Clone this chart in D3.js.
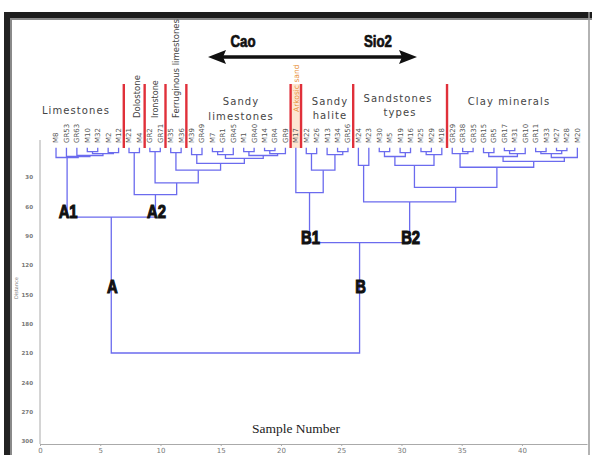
<!DOCTYPE html>
<html><head><meta charset="utf-8">
<script src="https://cdn.jsdelivr.net/npm/d3@7"></script>
<style>body{margin:0;background:#fff}svg{display:block}</style>
</head><body><svg id="c" width="592" height="455"></svg>
<script>
// ---------------- DATA ----------------
const leafLabels = [
  "M8","GR53","GR63","M10","M32","M2","M12",
  "M21","M4",
  "GR2","GR71",
  "M35","M36",
  "M39","GR49","M7","GR1","GR45","M1","GR40","M14","GR4","GR9",
  "M17",
  "M22","M26","M13","M34","GR56",
  "M24","M23","M30","M5","M19","M16","M25","M29","M18",
  "GR29","GR38","GR35","GR15","GR5","GR17","M31","GR10","GR11","M33","M27","M28","M20"
];
// linkage: [name, left, right, distance]  (numbers = leaf index, strings = earlier merge)
const merges = [
  ["a34",3,4,4],["a56",5,6,5],["aZ","a34","a56",6],["aY",2,"aZ",8],["aX",1,"aY",9],["A1",0,"aX",10],
  ["d78",7,8,5],["i910",9,10,4],["f1112",11,12,5],["s1314",13,14,7],["s1516",15,16,4],["S1","s1516",17,7],
  ["s1819",18,19,4],["s2021",20,21,3],["s2022","s2021",22,6],["S2","s1819","s2022",8],["T2","S1","S2",11],
  ["U","s1314","T2",16],["V","f1112","U",23],["W","i910","V",36],["A2","d78","W",48],["A","A1","A2",71],
  ["h2425",24,25,6],["h2728",27,28,4],["P2",26,"h2728",7],["R","h2425","P2",23],["B1",23,"R",46],
  ["Q1",29,30,18],["t3132",31,32,4],["t3334",33,34,5],["O1","t3132","t3334",9],["t3536",35,36,4],["O2","t3536",37,7],["Q3","O1","O2",18],
  ["c3940",39,40,4],["N1",38,"c3940",6],["c4142",41,42,5],["c4344",43,44,3],["c4345","c4344",45,6],["M1","c4142","c4345",9],
  ["c4647",46,47,4],["c4849",48,49,3],["cX","c4647","c4849",6],["M2","cX",50,10],["N2","M1","M2",14],["Q4","N1","N2",20],
  ["Q2","Q3","Q4",40.5],["B2","Q1","Q2",55.5],["B","B1","B2",97],["root","A","B",210]
];
const groupCounts = [7,2,2,2,10,1,5,9,13];
const clusterLabels = ["A","A1","A2","B","B1","B2"];
const xTicks = [0,5,10,15,20,25,30,35,40];
const yTicks = [30,60,90,120,150,180,210,240,270,300];

// ---------------- LAYOUT ----------------
const svg = d3.select("#c");
const x = d3.scaleLinear().domain([0,45.4]).range([40,587]);
const y = d3.scaleLinear().domain([0,300]).range([147.7,441]);
const leafX = d3.scalePoint().domain(d3.range(leafLabels.length)).range([x(1.33), x(44.6)]);
const lineCol = "#6b6bee";

// frame
svg.append("rect").attr("x",0).attr("y",0).attr("width",592).attr("height",455).attr("fill","#fff");
svg.append("rect").attr("x",5).attr("y",12).attr("width",587).attr("height",6).attr("fill","#1c1c1c");
svg.append("rect").attr("x",5).attr("y",18).attr("width",587).attr("height",2).attr("fill","#8a8a8a");
svg.append("rect").attr("x",4).attr("y",12).attr("width",6).attr("height",443).attr("fill","#222");
svg.append("rect").attr("x",10).attr("y",18).attr("width",2).attr("height",437).attr("fill","#8a8a8a");
svg.append("line").attr("x1",589).attr("x2",589).attr("y1",12).attr("y2",455).attr("stroke","#9a9a9a").attr("stroke-width",1.5);

// axes
const gx = svg.append("g").attr("transform",`translate(0,${y(300)+3})`)
  .call(d3.axisBottom(x).tickValues(xTicks).tickSize(2).tickSizeOuter(0));
gx.select(".domain").attr("stroke","#aaa");
gx.selectAll(".tick line").attr("stroke","#aaa");
gx.selectAll("text").attr("fill","#777").attr("font-size",7).attr("font-family","DejaVu Sans").attr("dy","0.5em");
const gy = svg.append("g").attr("transform",`translate(${x(0)},0)`)
  .call(d3.axisLeft(y).tickValues(yTicks).tickSize(0).tickSizeOuter(0).tickPadding(7));
gy.select(".domain").attr("stroke","#aaa").attr("d",`M0,140V${y(300)+3}`);
gy.selectAll("text").attr("fill","#777").attr("font-size",5.5).attr("font-family","DejaVu Sans").attr("font-weight","bold");
svg.append("text").attr("transform",`translate(18,288) rotate(-90)`).attr("text-anchor","middle")
  .attr("font-size",5).attr("fill","#777").attr("font-family","DejaVu Sans").text("Distance");
svg.append("text").attr("x",296).attr("y",433).attr("text-anchor","middle")
  .attr("font-family","Liberation Serif").attr("font-size",13.5).attr("fill","#222").text("Sample Number");

// group separators
const bounds = []; let acc = 0;
groupCounts.forEach(c => { acc += c; bounds.push(acc); });
const sepX = bounds.slice(0,-1).map(b => (leafX(b-1)+leafX(b))/2);
svg.append("rect").attr("x",sepX[4]).attr("width",sepX[5]-sepX[4]).attr("y",84).attr("height",64).attr("fill","#fde6d2");
sepX.forEach(sx => svg.append("line").attr("x1",sx).attr("x2",sx).attr("y1",84).attr("y2",148)
  .attr("stroke","#e0303a").attr("stroke-width",2.4));

// leaf labels
svg.append("g").selectAll("text").data(leafLabels).join("text")
  .attr("transform",(d,i)=>`translate(${leafX(i)},143) rotate(-90)`)
  .attr("dy","0.35em").attr("font-size",7).attr("font-family","DejaVu Sans")
  .attr("fill","#555").text(d=>d);

// dendrogram
const nodes = {};
leafLabels.forEach((l,i)=> nodes[i] = {x: leafX(i), h: 0});
const dg = svg.append("g").attr("stroke",lineCol).attr("stroke-width",1.3).attr("fill","none");
merges.forEach(([name,a,b,h])=>{
  const L = nodes[a], R = nodes[b];
  dg.append("path").attr("d",`M${L.x},${y(L.h)}V${y(h)}H${R.x}V${y(R.h)}`);
  nodes[name] = {x:(L.x+R.x)/2, h};
});

// cluster letters (condensed heavy)
const parentH = {}; merges.forEach(([n,a,b,h])=>{ parentH[a]=h; parentH[b]=h; });
clusterLabels.forEach(n=>{
  const nd = nodes[n];
  const big = n.length === 1;
  const yy = big ? y(140)+8 : y(parentH[n])+1;
  svg.append("text").attr("transform",`translate(${nd.x+1},${yy}) scale(0.78,1)`).attr("text-anchor","middle")
    .attr("font-family","Liberation Sans").attr("font-weight","bold")
    .attr("font-size",19).attr("fill","#111").attr("stroke","#111").attr("stroke-width",1.1).text(n);
});

// annotations
const labTxt = (t,xx,yy)=>svg.append("text").attr("x",xx).attr("y",yy).attr("text-anchor","middle")
  .attr("font-family","DejaVu Sans").attr("font-size",10).attr("letter-spacing",1.1).attr("fill","#444").text(t);
labTxt("Limestones",76,114);
labTxt("Sandy",241,105); labTxt("limestones",241,120);
labTxt("Sandy",330,105); labTxt("halite",330,119);
labTxt("Sandstones",398,102); labTxt("types",400,116);
labTxt("Clay minerals",509,105);
const rotTxt = (t,xx,yb,col,fs)=>svg.append("text").attr("transform",`translate(${xx},${yb}) rotate(-90)`)
  .attr("dy","0.35em").attr("font-family","DejaVu Sans").attr("font-size",fs).attr("fill",col).text(t);
rotTxt("Dolostone",137,118,"#444",8.5);
rotTxt("Ironstone",155,118,"#444",8);
rotTxt("Ferruginous limestones",176,118,"#444",8.5);
rotTxt("Arkosic sand",296,112,"#e8913a",7.5);

// Cao <-> SiO2 arrow
const ay = 57;
svg.append("line").attr("x1",222).attr("x2",403).attr("y1",ay).attr("y2",ay).attr("stroke","#111").attr("stroke-width",3.5);
svg.append("path").attr("d",`M208,${ay}L226,${ay-7}L223,${ay}L226,${ay+7}Z`).attr("fill","#111");
svg.append("path").attr("d",`M417,${ay}L399,${ay-7}L402,${ay}L399,${ay+7}Z`).attr("fill","#111");
const bTxt = (t,xx)=>svg.append("text").attr("transform",`translate(${xx},47) scale(0.78,1)`).attr("text-anchor","middle")
  .attr("font-family","Liberation Sans").attr("font-weight","bold")
  .attr("font-size",17).attr("fill","#111").attr("stroke","#111").attr("stroke-width",0.7).text(t);
bTxt("Cao",243); bTxt("Sio2",378);
</script></body></html>
